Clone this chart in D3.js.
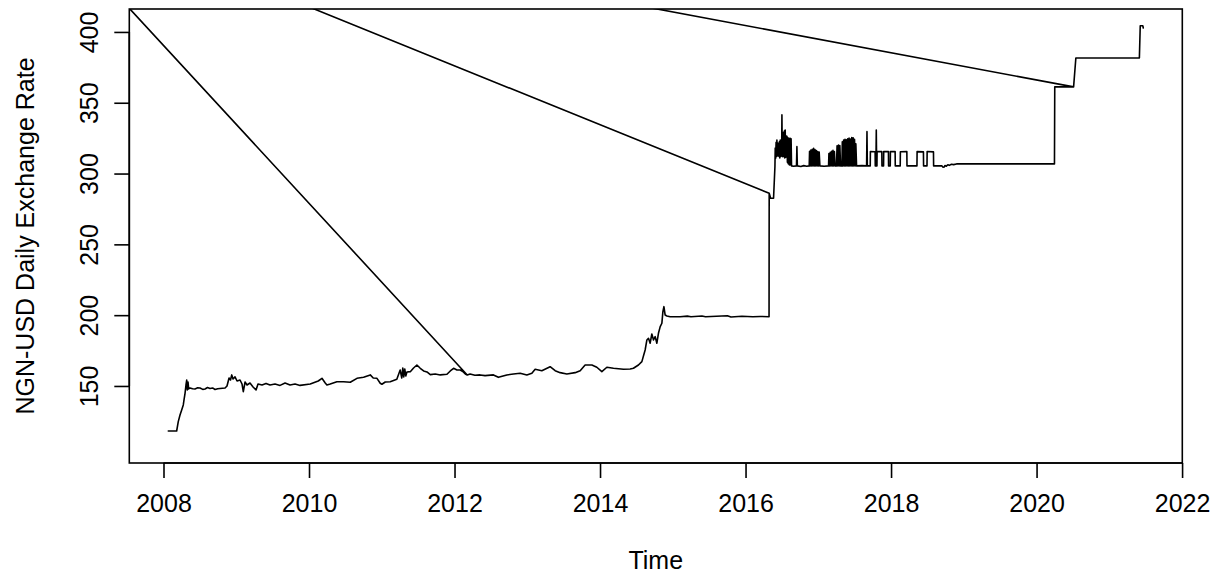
<!DOCTYPE html>
<html>
<head>
<meta charset="utf-8">
<script src="https://cdn.jsdelivr.net/npm/d3@7"></script>
<style>
  html, body { margin: 0; padding: 0; background: #fff; }
  svg { display: block; }
  text { font-family: "Liberation Sans", Arial, Helvetica, sans-serif; fill: #000; }
</style>
</head>
<body>
<svg id="chart" width="1226" height="576"></svg>
<script>
// Axis ticks and titles
const xTicks = [2008, 2010, 2012, 2014, 2016, 2018, 2020, 2022];
const yTicks = [150, 200, 250, 300, 350, 400];
const xTitle = "Time";
const yTitle = "NGN-USD Daily Exchange Rate";

// Naira per US dollar, [decimal year, rate]
const rates2008to2012 = [
  [2008.066,118.2],[2008.181,118.2],[2008.203,124.8],[2008.227,129.5],[2008.250,133.1],
  [2008.272,136.6],[2008.282,140.1],[2008.296,144.8],[2008.309,150.7],[2008.319,154.2],
  [2008.327,147.2],[2008.337,152.8],[2008.346,147.9],[2008.364,148.6],[2008.400,148.0],
  [2008.433,147.9],[2008.470,148.7],[2008.502,148.6],[2008.540,147.6],[2008.571,147.9],
  [2008.605,148.9],[2008.639,148.2],[2008.675,148.6],[2008.708,147.5],[2008.745,148.0],
  [2008.777,148.2],[2008.846,148.6],[2008.873,150.0],[2008.901,155.6],[2008.921,154.2],
  [2008.938,157.8],[2008.956,154.9],[2008.983,156.4],[2009.011,153.5],[2009.052,154.2],
  [2009.079,151.4],[2009.097,146.0],[2009.121,152.8],[2009.148,150.7],[2009.189,152.1],
  [2009.231,149.3],[2009.272,147.2],[2009.299,151.4],[2009.354,150.7],[2009.409,151.8],
  [2009.464,150.7],[2009.533,151.4],[2009.602,150.4],[2009.671,152.1],[2009.739,150.7],
  [2009.808,151.4],[2009.877,150.4],[2010.017,151.4],[2010.127,153.5],[2010.178,155.4],
  [2010.223,152.1],[2010.246,150.7],[2010.292,151.4],[2010.383,153.0],[2010.475,153.0],
  [2010.567,152.6],[2010.659,155.4],[2010.750,156.1],[2010.842,157.8],[2010.883,155.6],
  [2010.934,155.4],[2010.979,151.9],[2011.002,151.2],[2011.048,152.8],[2011.116,153.0],
  [2011.207,154.7],[2011.253,161.3],[2011.275,155.6],[2011.289,162.7],[2011.302,156.4],
  [2011.316,162.0],[2011.330,157.1],[2011.346,159.9],[2011.392,160.1],[2011.437,162.7],
  [2011.483,164.8],[2011.529,162.5],[2011.575,160.6],[2011.621,159.9],[2011.667,158.0],
  [2011.735,158.5],[2011.804,157.8],[2011.896,158.3],[2011.942,160.6],[2011.987,162.5],
  [2012.033,161.3],[2012.079,161.3],[2012.120,159.9],[2012.148,158.5],[2012.175,157.8]
];

const rates2012to2016 = [
  [2012.175,157.8],[2012.214,158.5],[2012.280,157.6],[2012.352,157.8],[2012.420,157.3],
  [2012.535,157.8],[2012.603,156.1],[2012.719,157.8],[2012.810,158.5],[2012.902,159.0],
  [2012.994,157.8],[2013.063,159.0],[2013.108,161.8],[2013.200,160.8],[2013.314,163.6],
  [2013.383,160.8],[2013.452,159.4],[2013.544,158.5],[2013.658,159.4],[2013.727,160.8],
  [2013.795,164.8],[2013.888,164.8],[2013.956,163.2],[2014.025,160.1],[2014.094,163.2],
  [2014.185,162.5],[2014.322,161.8],[2014.414,162.0],[2014.459,162.5],[2014.528,164.8],
  [2014.575,167.2],[2014.620,175.4],[2014.644,182.5],[2014.666,183.7],[2014.689,180.2],
  [2014.712,186.7],[2014.735,182.5],[2014.758,184.8],[2014.781,180.2],[2014.803,187.2],
  [2014.827,191.9],[2014.850,194.3],[2014.864,202.5],[2014.878,206.0],[2014.895,200.1],
  [2014.919,199.4],[2014.964,198.9],[2015.100,198.9],[2015.200,199.3],[2015.250,198.9],
  [2015.400,199.4],[2015.450,198.9],[2015.600,199.2],[2015.750,199.6],[2015.800,198.7],
  [2015.950,199.2],[2016.100,198.9],[2016.200,199.1],[2016.323,198.9],[2016.325,286.1]
];

const rates2016to2020 = [
  [2016.325,286.1],[2016.345,282.6],[2016.385,282.6],[2016.404,305.0],[2016.408,318.0],
  [2016.414,310.8],[2016.420,322.0],[2016.426,312.0],[2016.431,323.7],[2016.437,312.5],
  [2016.443,321.5],[2016.449,313.0],[2016.453,320.2],[2016.459,312.0],[2016.465,322.5],
  [2016.471,311.0],[2016.477,323.7],[2016.483,312.0],[2016.490,322.0],[2016.496,313.0],
  [2016.500,341.4],[2016.505,312.0],[2016.514,311.9],[2016.520,329.0],[2016.526,312.0],
  [2016.533,330.0],[2016.539,311.0],[2016.545,330.8],[2016.552,311.5],[2016.559,311.9],
  [2016.564,326.5],[2016.569,326.1],[2016.575,308.0],[2016.580,325.5],[2016.586,307.0],
  [2016.591,324.9],[2016.598,306.5],[2016.604,306.1],[2016.609,324.9],[2016.614,324.9],
  [2016.620,306.0],[2016.626,324.5],[2016.632,305.4],[2016.660,305.2],[2016.700,305.4],
  [2016.706,319.0],[2016.712,305.4],[2016.760,305.0],[2016.800,305.6],[2016.840,305.2],
  [2016.875,305.4],[2016.880,315.8],[2016.889,305.4],[2016.898,316.6],[2016.908,305.4],
  [2016.917,317.2],[2016.927,305.4],[2016.936,317.8],[2016.946,305.4],[2016.955,316.9],
  [2016.965,305.4],[2016.974,316.2],[2016.984,305.4],[2016.993,315.6],[2017.003,305.4],
  [2017.012,315.2],[2017.022,305.4],[2017.080,305.2],[2017.141,305.4],[2017.146,314.2],
  [2017.155,305.4],[2017.164,315.0],[2017.174,305.4],[2017.183,315.8],[2017.193,305.4],
  [2017.202,316.4],[2017.212,305.4],[2017.221,315.6],[2017.231,305.4],[2017.250,305.4],
  [2017.258,319.6],[2017.268,305.4],[2017.277,320.2],[2017.287,305.4],[2017.296,319.8],
  [2017.306,305.4],[2017.325,305.4],[2017.330,322.4],[2017.339,305.4],[2017.348,323.6],
  [2017.358,305.4],[2017.367,324.2],[2017.376,305.4],[2017.386,323.8],[2017.395,305.4],
  [2017.404,324.6],[2017.414,305.4],[2017.423,325.0],[2017.432,305.4],[2017.442,324.4],
  [2017.451,305.4],[2017.460,325.5],[2017.470,305.4],[2017.479,325.2],[2017.488,305.4],
  [2017.498,324.1],[2017.507,305.4],[2017.516,321.0],[2017.526,305.4],[2017.600,305.6],
  [2017.664,305.4],[2017.669,329.6],[2017.674,305.4],[2017.714,305.4],[2017.716,315.5],
  [2017.781,315.4],[2017.783,305.4],[2017.792,305.4],[2017.797,330.8],[2017.802,305.4],
  [2017.806,305.4],[2017.808,315.6],[2017.873,315.5],[2017.875,305.4],[2017.897,305.4],
  [2017.899,315.5],[2017.964,315.6],[2017.966,305.4],[2017.989,305.4],[2017.991,315.5],
  [2018.056,315.5],[2018.058,305.4],[2018.126,305.4],[2018.128,315.4],[2018.217,315.6],
  [2018.219,305.4],[2018.356,305.4],[2018.358,315.5],[2018.445,315.3],[2018.447,305.4],
  [2018.494,305.4],[2018.496,315.6],[2018.583,315.3],[2018.585,305.4],[2018.700,305.4],
  [2018.715,304.5],[2018.730,304.6],[2018.740,305.6],[2018.760,305.2],[2018.780,306.2],
  [2018.800,305.8],[2018.830,306.6],[2018.860,306.3],[2018.900,306.8],[2019.500,306.8],
  [2020.246,306.8],[2020.250,361.2],[2020.509,361.2]
];

const rates2020to2021 = [
  [2020.509,361.2],[2020.540,381.6],[2021.413,381.6],[2021.425,404.4],[2021.460,404.4],
  [2021.467,402.8]
];

// A stray row that the series returns to between its blocks
const strayRow = [2006.03, 500.3];

// Value limits of the plotting region
const yLimits = [95.6, 416.2];

const box = { left: 129.3, right: 1182.3, top: 9, bottom: 463 };

const svg = d3.select("#chart");

const allRows = [...rates2008to2012, ...rates2012to2016, ...rates2016to2020, ...rates2020to2021];
const xExt = d3.extent(allRows, d => d[0]);
const xPad = (xExt[1] - xExt[0]) * 0.04;

const x = d3.scaleLinear().domain([xExt[0] - xPad, xExt[1] + xPad]).range([box.left, box.right]);
const y = d3.scaleLinear().domain(yLimits).range([box.bottom, box.top]);

// Series in record order, with the stray row between blocks
const path = [
  ...rates2008to2012, strayRow,
  ...rates2012to2016, strayRow,
  ...rates2016to2020, strayRow,
  ...rates2020to2021
];

svg.append("clipPath").attr("id", "plotClip")
  .append("rect")
  .attr("x", box.left).attr("y", box.top)
  .attr("width", box.right - box.left).attr("height", box.bottom - box.top);

const line = d3.line().x(d => x(d[0])).y(d => y(d[1]));

svg.append("path")
  .datum(path)
  .attr("clip-path", "url(#plotClip)")
  .attr("d", line)
  .attr("fill", "none")
  .attr("stroke", "#000")
  .attr("stroke-width", 1.6)
  .attr("stroke-linejoin", "round")
  .attr("stroke-linecap", "round");

// Axes
const fontSize = 25;
const tickLen = 15;

const xAxis = d3.axisBottom(x).tickValues(xTicks).tickFormat(d3.format("d"))
  .tickSizeInner(tickLen).tickSizeOuter(0).tickPadding(16);
const gx = svg.append("g").attr("transform", `translate(0,${box.bottom})`).call(xAxis);
gx.select(".domain").attr("d", `M${x(xTicks[0])},0H${x(xTicks[xTicks.length - 1])}`)
  .attr("stroke", "#000").attr("stroke-width", 1.6);
gx.selectAll(".tick line").attr("stroke", "#000").attr("stroke-width", 1.6);
gx.selectAll(".tick text").attr("font-size", fontSize).attr("font-family", null);

const yAxis = d3.axisLeft(y).tickValues(yTicks).tickFormat(d3.format("d"))
  .tickSizeInner(tickLen).tickSizeOuter(0);
const gy = svg.append("g").attr("transform", `translate(${box.left},0)`).call(yAxis);
gy.select(".domain").attr("d", `M0,${y(yTicks[0])}V${y(yTicks[yTicks.length - 1])}`)
  .attr("stroke", "#000").attr("stroke-width", 1.6);
gy.selectAll(".tick line").attr("stroke", "#000").attr("stroke-width", 1.6);
gy.selectAll(".tick text")
  .attr("font-size", fontSize).attr("font-family", null)
  .attr("x", null).attr("dy", null)
  .attr("text-anchor", "middle")
  .attr("transform", "translate(-31,0) rotate(-90)");

// Plot frame
svg.append("rect")
  .attr("x", box.left).attr("y", box.top)
  .attr("width", box.right - box.left).attr("height", box.bottom - box.top)
  .attr("fill", "none").attr("stroke", "#000").attr("stroke-width", 1.6);

// Titles
svg.append("text")
  .attr("x", (box.left + box.right) / 2).attr("y", box.bottom + 106)
  .attr("text-anchor", "middle").attr("font-size", fontSize)
  .text(xTitle);

svg.append("text")
  .attr("transform", `translate(${box.left - 95},${(box.top + box.bottom) / 2}) rotate(-90)`)
  .attr("text-anchor", "middle").attr("font-size", fontSize)
  .text(yTitle);
</script>
</body>
</html>
